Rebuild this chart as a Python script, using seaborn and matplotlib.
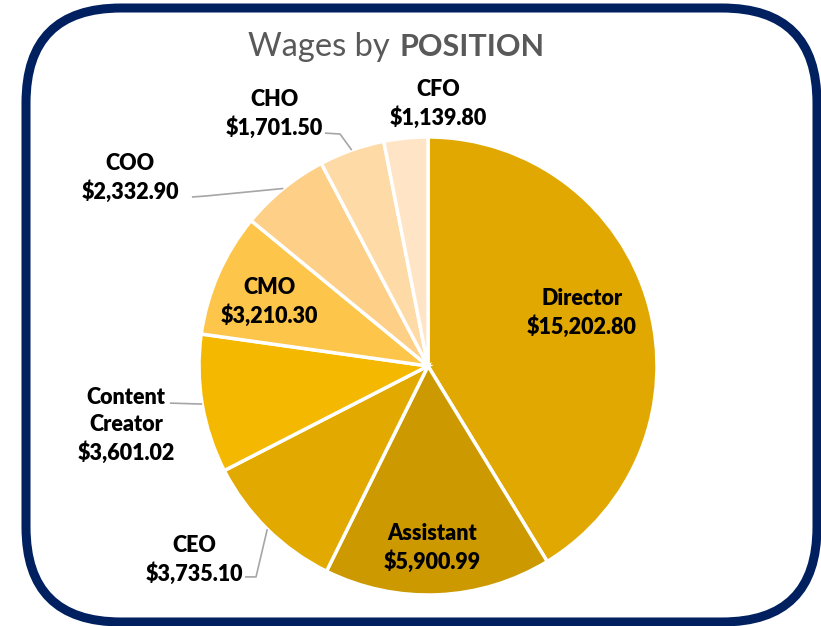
import numpy as np
import matplotlib
matplotlib.use("Agg")
import matplotlib.pyplot as plt
import seaborn as sns
from matplotlib.patches import FancyBboxPatch

# data
positions = ["Director", "Assistant", "CEO", "Content\nCreator", "CMO", "COO", "CHO", "CFO"]
wages = [15202.80, 5900.99, 3735.10, 3601.02, 3210.30, 2332.90, 1701.50, 1139.80]
slice_colors = ["#E0A800", "#CC9900", "#E2A900", "#F5B800",
                "#FDC54A", "#FDCF87", "#FEDBA6", "#FFE4C6"]

# label centres, in units of the pie radius
label_xy = [(0.672, 0.231), (0.017, -0.795), (-1.022, -0.847), (-1.319, -0.258),
            (-0.694, 0.279), (-1.301, 0.821), (-0.672, 1.100), (0.044, 1.144)]
# leader-line bends (None = label sits inside the slice or needs no line)
leader_knees = [None, None,
                [(-0.751, -0.921), (-0.799, -0.921)],
                [(-1.127, -0.162)],
                None,
                [(-0.974, 0.742), (-1.031, 0.738)],
                [(-0.384, 1.013), (-0.450, 1.017)],
                None]

W, H = 821, 626
CX, CY, R = 428, 366, 229

sns.set_theme(style="white")
plt.rcParams["font.family"] = ["Lato", "DejaVu Sans"]

fig = plt.figure(figsize=(W / 100, H / 100), dpi=100)

# background axes in pixel units: rounded frame + title
bg = fig.add_axes([0, 0, 1, 1])
bg.set_xlim(0, W)
bg.set_ylim(H, 0)
bg.axis("off")
frame = FancyBboxPatch((26, 8), 791, 614, boxstyle="round,pad=0,rounding_size=95",
                       fill=False, ec="#002060", lw=6.5)
bg.add_patch(frame)
bg.text(390, 47, "Wages by", ha="right", va="center", fontsize=23.5, color="#595959")
bg.text(400, 47, "POSITION", ha="left", va="center", fontsize=22,
        fontweight="bold", color="#595959")

# pie axes, one data unit = one pie radius
ax = fig.add_axes([0, 0, 1, 1])
wedges, _ = ax.pie(wages, colors=slice_colors, startangle=90, counterclock=False,
                   wedgeprops=dict(edgecolor="white", linewidth=2.5))
ax.set_xlim(-CX / R, (W - CX) / R)
ax.set_ylim(-(H - CY) / R, CY / R)
ax.set_aspect("equal")
ax.axis("off")
ax.patch.set_alpha(0)

for name, val, (lx, ly) in zip(positions, wages, label_xy):
    ax.text(lx, ly, f"{name}\n${val:,.2f}", ha="center", va="center",
            fontsize=15.5, fontweight="heavy", color="black", linespacing=1.35)

for w, knee in zip(wedges, leader_knees):
    if knee is None:
        continue
    mid = np.deg2rad((w.theta1 + w.theta2) / 2)
    xs = [np.cos(mid)] + [k[0] for k in knee]
    ys = [np.sin(mid)] + [k[1] for k in knee]
    ax.plot(xs, ys, color="#A6A6A6", lw=1.2, solid_capstyle="butt")

fig.savefig("out.png", dpi=100)
